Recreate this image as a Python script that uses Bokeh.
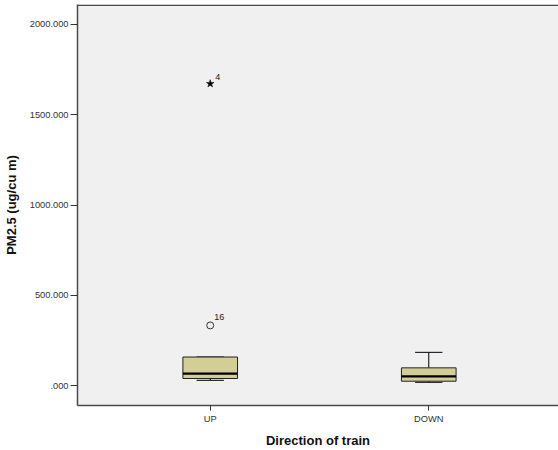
from bokeh.plotting import figure
from bokeh.models import FixedTicker, Span, ColumnDataSource
from bokeh.embed import file_html
from bokeh.resources import INLINE
from bokeh.core.properties import value

# Box-plot summary of PM2.5 by train direction
directions = ["UP", "DOWN"]
whisker_low = [29, 18]
q1 = [39, 24]
median = [66, 51]
q3 = [158, 98]
whisker_high = [158, 184]

# Flagged cases (circle = outlier, star = extreme)
outlier_dir = [1]
outlier_val = [333]
outlier_case = ["16"]
extreme_dir = [1]
extreme_val = [1672]
extreme_case = ["4"]

y_ticks = [0, 500, 1000, 1500, 2000]
y_tick_labels = [".000", "500.000", "1000.000", "1500.000", "2000.000"]

FONT = "Liberation Sans"
BOX_FILL = "#D3CE97"
BORDER = "#4a4a4a"

xpos = list(range(1, len(directions) + 1))
box_w = 0.25
cap_w = 0.125

p = figure(width=558, height=450, output_backend="svg", toolbar_location=None,
           x_range=(0.3927, 2.5936), y_range=(-110.5, 2110.5),
           min_border_left=76, min_border_right=0, min_border_top=4,
           min_border_bottom=44)
p.background_fill_color = "#F0F0F0"
p.border_fill_color = "white"
p.outline_line_color = None
p.grid.grid_line_color = None

src = ColumnDataSource(dict(x=xpos, lo=whisker_low, q1=q1, med=median, q3=q3, hi=whisker_high,
                            cl=[x - cap_w / 2 for x in xpos], cr=[x + cap_w / 2 for x in xpos],
                            bl=[x - box_w / 2 for x in xpos], br=[x + box_w / 2 for x in xpos]))

# whiskers
p.segment(x0="x", y0="q3", x1="x", y1="hi", source=src, line_color="black", line_width=1)
p.segment(x0="x", y0="lo", x1="x", y1="q1", source=src, line_color="black", line_width=1)
p.segment(x0="cl", y0="hi", x1="cr", y1="hi", source=src, line_color="black", line_width=1)
p.segment(x0="cl", y0="lo", x1="cr", y1="lo", source=src, line_color="black", line_width=1)
# boxes
p.vbar(x="x", width=box_w, bottom="q1", top="q3", source=src, fill_color=BOX_FILL,
       line_color="#222222", line_width=1)
# medians
p.segment(x0="bl", y0="med", x1="br", y1="med", source=src, line_color="black", line_width=2.2)

# outliers and extremes
p.scatter(outlier_dir, outlier_val, marker="circle", size=7, fill_color=None,
          line_color="#333333", line_width=1)
p.scatter(extreme_dir, extreme_val, marker="star", size=8, fill_color="black",
          line_color="black", line_width=0.5)
p.text(outlier_dir, outlier_val, text=outlier_case, x_offset=4, y_offset=-5,
       text_font=value(FONT), text_font_size="9px", text_color="#222222",
       text_baseline="bottom", text_align="left")
p.text(extreme_dir, extreme_val, text=extreme_case, x_offset=5, y_offset=-4,
       text_font=value(FONT), text_font_size="9px", text_color="#222222",
       text_baseline="bottom", text_align="left")

# axes
xa = p.xaxis[0]
xa.ticker = FixedTicker(ticks=xpos)
xa.major_label_overrides = {x: d for x, d in zip(xpos, directions)}
xa.axis_label = "Direction of train"
xa.minor_tick_line_color = None
xa.major_tick_out = 5
xa.major_tick_in = 0
xa.major_label_standoff = 3
xa.axis_label_standoff = 6

ya = p.yaxis[0]
ya.ticker = FixedTicker(ticks=y_ticks)
ya.major_label_overrides = {t: l for t, l in zip(y_ticks, y_tick_labels)}
ya.axis_label = "PM2.5 (ug/cu m)"
ya.minor_tick_line_color = None
ya.major_tick_out = 7
ya.major_tick_in = 0
ya.major_label_standoff = 2
ya.axis_label_standoff = 8

for ax in (xa, ya):
    ax.axis_line_color = BORDER
    ax.axis_line_width = 1.5
    ax.major_tick_line_color = "#333333"
    ax.major_label_text_font = FONT
    ax.major_label_text_font_size = "9.3px"
    ax.major_label_text_color = "#333333"
    ax.axis_label_text_font = FONT
    ax.axis_label_text_font_size = "13px"
    ax.axis_label_text_font_style = "bold"
    ax.axis_label_text_color = "#111111"

# top border of the plotting area
p.add_layout(Span(location=2110.5 - 3.5, dimension="width", line_color=BORDER, line_width=1.5))

open("out.html", "w").write(file_html(p, INLINE))
